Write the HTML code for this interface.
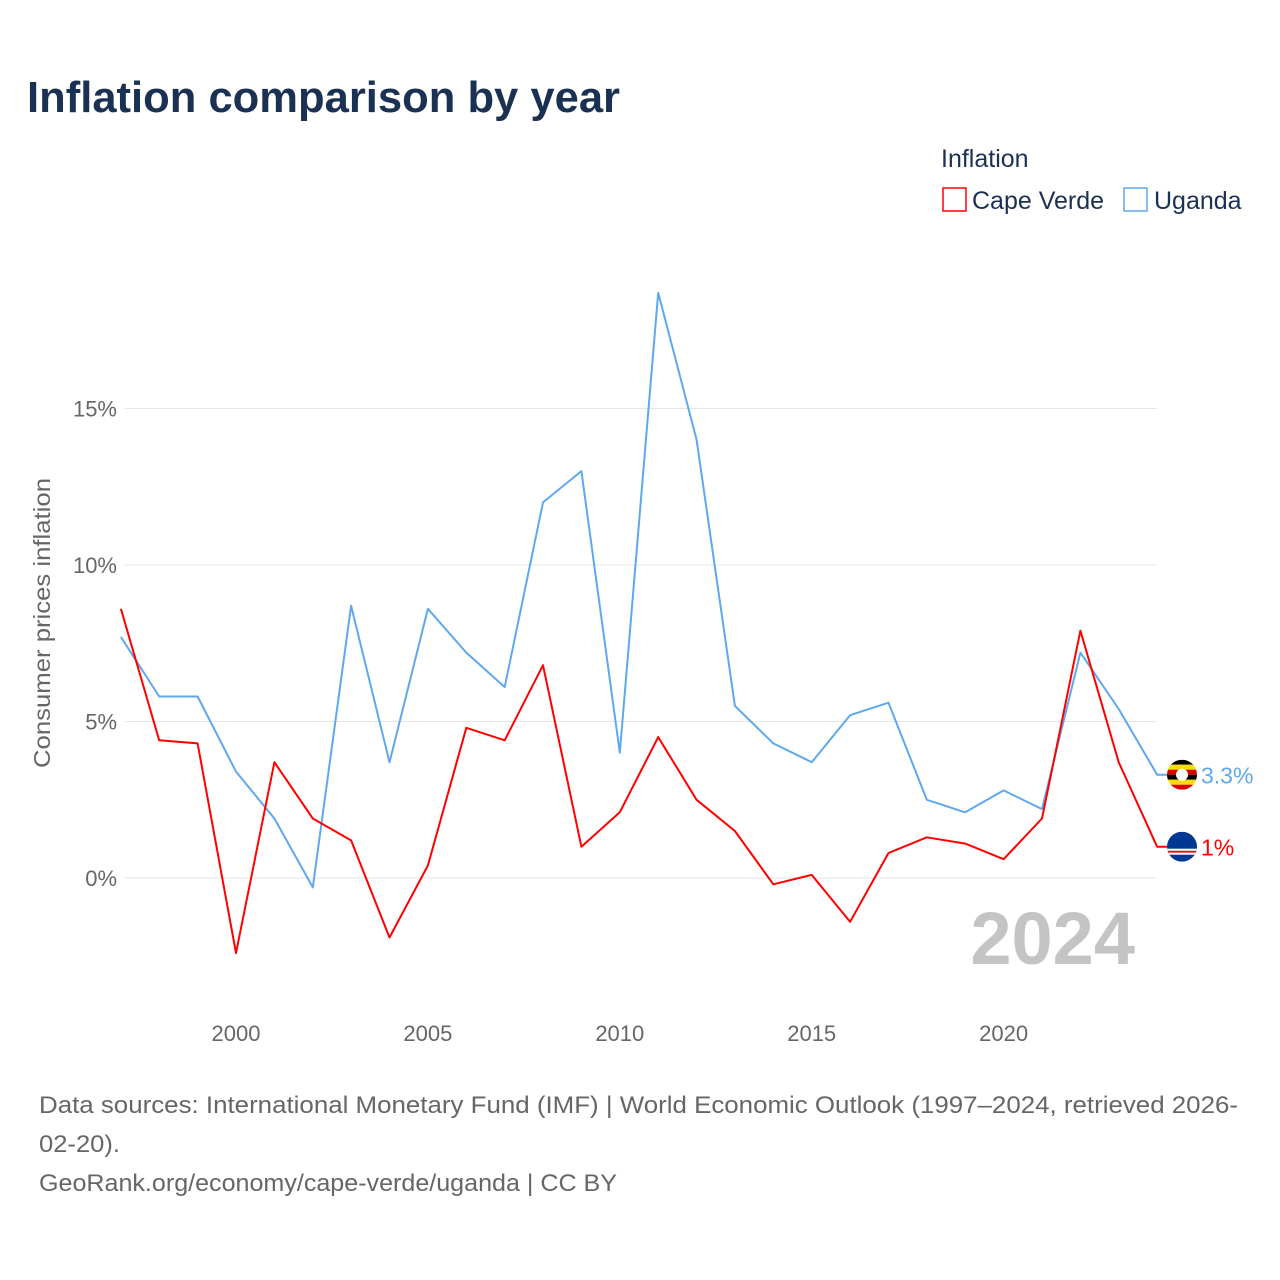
<!DOCTYPE html>
<html><head><meta charset="utf-8"><style>
body{margin:0;background:#fff;font-family:"Liberation Sans",sans-serif;}
#wrap{position:relative;width:1280px;height:1280px;overflow:hidden;}
</style></head><body>
<div id="wrap">
<svg id="chart" width="1280" height="1280"></svg>
</div>
<script>
const years=[1997,1998,1999,2000,2001,2002,2003,2004,2005,2006,2007,2008,2009,2010,2011,2012,2013,2014,2015,2016,2017,2018,2019,2020,2021,2022,2023,2024];
const capeVerde=[8.6,4.4,4.3,-2.4,3.7,1.9,1.2,-1.9,0.4,4.8,4.4,6.8,1.0,2.1,4.5,2.5,1.5,-0.2,0.1,-1.4,0.8,1.3,1.1,0.6,1.9,7.9,3.7,1.0];
const uganda=[7.7,5.8,5.8,3.4,1.9,-0.3,8.7,3.7,8.6,7.2,6.1,12.0,13.0,4.0,18.7,14.0,5.5,4.3,3.7,5.2,5.6,2.5,2.1,2.8,2.2,7.2,5.4,3.3];
const yTicks=[0,5,10,15];
const xTicks=[2000,2005,2010,2015,2020];
const NS="http://www.w3.org/2000/svg";
const svg=document.getElementById('chart');
const x=v=>236+(v-2000)*38.38;
const y=v=>878-v*31.3;
function mk(t,a,txt){const e=document.createElementNS(NS,t);for(const k in a)e.setAttribute(k,a[k]);if(txt!=null)e.textContent=txt;svg.appendChild(e);return e;}
let e;
e=mk('text',{x:27,y:112,'font-size':44,'font-weight':'bold',fill:'#1b3153',textLength:593,lengthAdjust:'spacingAndGlyphs'},'Inflation comparison by year');

e=mk('text',{x:941,y:167,'font-size':25,fill:'#1b3153'},'Inflation');

e=mk('rect',{x:943,y:188,width:23,height:23,fill:'none',stroke:'#ff0000','stroke-width':1.5});

e=mk('text',{x:972,y:209,'font-size':25,fill:'#1b3153'},'Cape Verde');

e=mk('rect',{x:1124,y:188,width:23,height:23,fill:'none',stroke:'#5fa8ee','stroke-width':1.5});

e=mk('text',{x:1154,y:209,'font-size':25,fill:'#1b3153'},'Uganda');

yTicks.forEach(t=>{
 e=mk('line',{x1:125,x2:1157,y1:y(t),y2:y(t),stroke:'#e6e6e6','stroke-width':1});
 
 e=mk('text',{x:117,y:y(t)+8,'font-size':22,fill:'#666','text-anchor':'end'},t+'%');
 
});
xTicks.forEach(t=>{
 e=mk('text',{x:x(t),y:1041,'font-size':22,fill:'#666','text-anchor':'middle'},String(t));
 
});
e=mk('text',{x:50,y:623,'font-size':23,fill:'#666','text-anchor':'middle',transform:'rotate(-90 50 623)',textLength:290,lengthAdjust:'spacingAndGlyphs'},'Consumer prices inflation');

e=mk('text',{x:1135,y:964,'font-size':74,'font-weight':'bold',fill:'#c4c4c4','text-anchor':'end'},'2024');

function line(data,color,name){
 const d=data.map((v,i)=>(i?'L':'M')+x(years[i]).toFixed(1)+','+y(v).toFixed(1)).join(' ')+' L'+(x(2024)+10)+','+y(data[data.length-1]).toFixed(1);
 const p=mk('path',{d:d,fill:'none',stroke:color,'stroke-width':2,'stroke-linejoin':'round'});
 
}
line(uganda,'#5fa8ee','series-uganda');
line(capeVerde,'#ff0000','series-cape-verde');
const uy=y(uganda[uganda.length-1]), cy=y(capeVerde[capeVerde.length-1]);
const cols=['#000','#fcdc04','#d90000','#000','#fcdc04','#d90000'];
const g=mk('g',{});
cols.forEach((c,i)=>{const r=document.createElementNS(NS,'rect');r.setAttribute('x',1167);r.setAttribute('y',uy-15+i*5);r.setAttribute('width',30);r.setAttribute('height',5);r.setAttribute('fill',c);r.setAttribute('clip-path','url(#cu)');g.appendChild(r);});
const defs=mk('defs',{});defs.innerHTML='<clipPath id="cu"><circle cx="1182" cy="'+uy+'" r="15"/></clipPath><clipPath id="cc"><circle cx="1182" cy="'+cy+'" r="15"/></clipPath>';
e=mk('circle',{cx:1182,cy:uy,r:6,fill:'#fff'});
e=mk('g',{'clip-path':'url(#cc)'});e.innerHTML='<rect x="1167" y="'+(cy-15)+'" width="30" height="30" fill="#003893"/><rect x="1167" y="'+(cy+2)+'" width="30" height="6" fill="#fff"/><rect x="1167" y="'+(cy+4)+'" width="30" height="2" fill="#cf2027"/>';

e=mk('text',{x:1201,y:uy+9,'font-size':23,fill:'#5fa8ee'},'3.3%');

e=mk('text',{x:1201,y:cy+9,'font-size':23,fill:'#ff0000'},'1%');

const src=['Data sources: International Monetary Fund (IMF) | World Economic Outlook (1997–2024, retrieved 2026-','02-20).','GeoRank.org/economy/cape-verde/uganda | CC BY'];
const srcLen=[1199,81,578];
src.forEach((s,i)=>{e=mk('text',{x:39,y:1113+i*39,'font-size':24,fill:'#666',textLength:srcLen[i],lengthAdjust:'spacingAndGlyphs'},s);
 });
</script>
</body></html>
